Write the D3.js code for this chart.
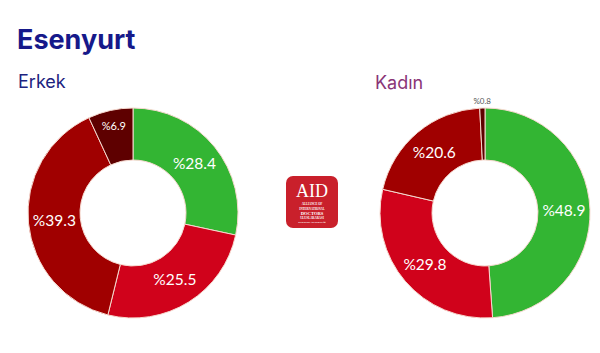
<!DOCTYPE html>
<html>
<head>
<meta charset="utf-8">
<script src="https://cdn.jsdelivr.net/npm/d3@7"></script>
<style>
  body { margin: 0; background: #fff; }
  svg { display: block; }
  .title { font-family: Inter, sans-serif; font-weight: 700; font-size: 27px; fill: #16198a; }
  .sub { font-family: Inter, sans-serif; font-weight: 400; font-size: 18px; }
  .slice-label { font-family: Lato, sans-serif; font-weight: 400; fill: #fff; }
  .small-label { font-family: Lato, sans-serif; font-size: 8px; fill: #555; }
</style>
</head>
<body>
<div id="chart"></div>
<script>
const categories = ["A", "B", "C", "D"]
const erkek = [28.4, 25.5, 39.3, 6.9]
const kadin = [48.9, 29.8, 20.6, 0.8]
const colors = ["#33b533", "#d0021b", "#a00000", "#5e0000"]

const width = 600
const height = 353
const outerR = 105
const innerR = 53

const svg = d3.select("#chart").append("svg")
	.attr("width", width)
	.attr("height", height)

svg.append("text")
	.attr("class", "title")
	.attr("x", 17)
	.attr("y", 49)
	.text("Esenyurt")

svg.append("text")
	.attr("class", "sub")
	.attr("x", 18)
	.attr("y", 88)
	.attr("fill", "#1c2380")
	.text("Erkek")

svg.append("text")
	.attr("class", "sub")
	.attr("x", 375)
	.attr("y", 89)
	.attr("fill", "#8a3577")
	.text("Kadın")

let color = d3.scaleOrdinal()
	.domain(categories)
	.range(colors)

let pie = d3.pie()
	.sort(null)
	.value(d => d.value)

let arc = d3.arc()
	.innerRadius(innerR)
	.outerRadius(outerR)

let labelArc = d3.arc()
	.innerRadius(innerR + 3)
	.outerRadius(outerR - 3)

// narrow slices: label pushed towards the rim
let rimArc = d3.arc()
	.innerRadius(outerR - 16)
	.outerRadius(outerR - 16)

let outArc = d3.arc()
	.innerRadius(outerR + 7)
	.outerRadius(outerR + 7)

function labelPos(d) {
	if (d.data.value < 2) return outArc.centroid(d)
	if (d.data.value < 10) return rimArc.centroid(d)
	return labelArc.centroid(d)
}

function donut(values, cx, cy) {
	let data = categories.map((c, i) => ({ cat: c, value: values[i] }))
	let g = svg.append("g")
		.attr("transform", "translate(" + cx + "," + cy + ")")

	g.selectAll("path")
		.data(pie(data))
		.enter()
		.append("path")
			.attr("d", arc)
			.attr("fill", d => color(d.data.cat))
			.attr("stroke", "#f6d9cf")
			.attr("stroke-width", 1)

	g.selectAll("text")
		.data(pie(data))
		.enter()
		.append("text")
			.attr("class", d => d.data.value < 2 ? "small-label" : "slice-label")
			.attr("font-size", d => d.data.value < 10 ? 11 : 15.5)
			.attr("text-anchor", "middle")
			.attr("dy", "0.35em")
			.attr("transform", d => "translate(" + labelPos(d) + ")")
			.text(d => "%" + d.data.value)
}

donut(erkek, 133, 213)
donut(kadin, 485, 213)

// logo
let logo = svg.append("g").attr("transform", "translate(312,202)")
logo.append("rect")
	.attr("x", -26).attr("y", -26)
	.attr("width", 52).attr("height", 52)
	.attr("rx", 7)
	.attr("fill", "#c9202b")
logo.append("text")
	.attr("text-anchor", "middle")
	.attr("y", -5)
	.attr("font-family", "Liberation Serif, serif")
	.attr("font-size", 18)
	.attr("fill", "#fff")
	.text("AID")
const logoLines = [["ALLIANCE OF", 3, 3], ["INTERNATIONAL", 3, 7.5], ["DOCTORS", 4.6, 12.5], ["ULUSLARARASI", 3, 17], ["DOKTORLAR DERNEĞİ", 2.4, 21]]
logoLines.forEach(l => {
	logo.append("text")
		.attr("text-anchor", "middle")
		.attr("y", l[2])
		.attr("font-family", "Liberation Serif, serif")
		.attr("font-weight", 700)
		.attr("font-size", l[1])
		.attr("fill", "#fff")
		.text(l[0])
})
</script>
</body>
</html>
